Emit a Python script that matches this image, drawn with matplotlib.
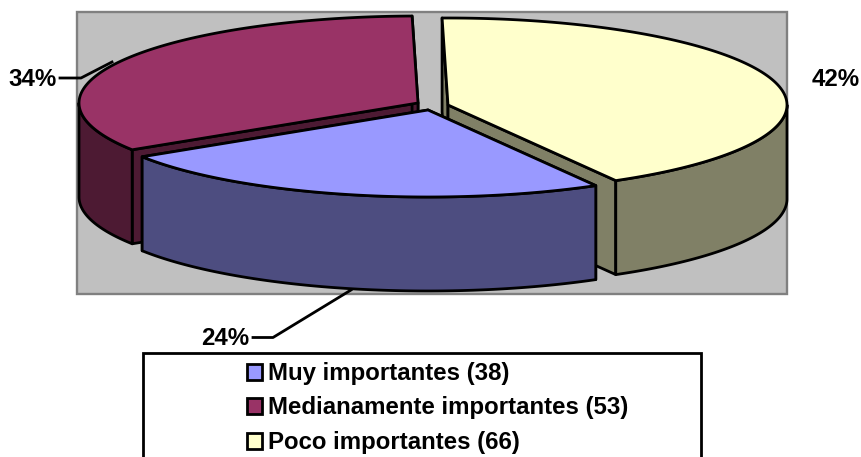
import matplotlib
matplotlib.use("Agg")
import matplotlib.pyplot as plt
import numpy as np
from matplotlib.patches import Polygon, Rectangle

plt.rcParams['font.family'] = ['Liberation Sans', 'DejaVu Sans']

names = ['Muy importantes', 'Medianamente importantes', 'Poco importantes']
values = [38, 53, 66]
top_colors = ['#9999FF', '#993366', '#FFFFCC']
side_colors = ['#4D4D80', '#4D1A33', '#808066']

# exploded apex of each slice, in pixels
apex = [(428, 110), (418, 103), (448, 105)]
rx, ry = 339, 87
depth = 94
start = 91.0
lw = 2.0

fig = plt.figure(figsize=(8.62, 4.57), dpi=100)
ax = fig.add_axes([0, 0, 1, 1])
ax.set_xlim(0, 862)
ax.set_ylim(457, 0)
ax.axis('off')

ax.add_patch(Rectangle((77, 12), 710, 282, fc='#C0C0C0', ec='#808080', lw=1.7, zorder=1))

# angles run clockwise from the start, yellow first
total = sum(values)
spans = [v / total * 360 for v in values]
a_poco = (start, start - spans[2])
a_muy = (a_poco[1], a_poco[1] - spans[0])
a_med = (a_muy[1], a_muy[1] - spans[1])
angles = [a_muy, a_med, a_poco]


def arc(cx, cy, a0, a1, n=120):
    t = np.radians(np.linspace(a0, a1, n))
    return np.column_stack([cx + rx * np.cos(t), cy - ry * np.sin(t)])


def draw_slice(i, z):
    cx, cy = apex[i]
    a0, a1 = angles[i]
    edge = arc(cx, cy, a0, a1)
    down = np.array([0, depth])
    c = np.array([[cx, cy]])

    # radial walls
    for a in (a0, a1):
        p = arc(cx, cy, a, a, 1)
        wall = np.vstack([c, p, p + down, c + down])
        ax.add_patch(Polygon(wall, fc=side_colors[i], ec='black', lw=lw, joinstyle='round', zorder=z))

    # outer wall, front half only
    lo, hi = min(a0, a1), max(a0, a1)
    for k in (-360, 0):
        l2, h2 = max(lo, -180 + k), min(hi, 0 + k)
        if h2 > l2:
            rim = arc(cx, cy, h2, l2)
            ax.add_patch(Polygon(np.vstack([rim, (rim + down)[::-1]]), fc=side_colors[i], ec='black',
                                 lw=lw, joinstyle='round', zorder=z))

    ax.add_patch(Polygon(np.vstack([c, edge]), fc=top_colors[i], ec='black', lw=lw,
                         joinstyle='round', zorder=z + 0.5))


draw_slice(2, 2)
draw_slice(1, 3)
draw_slice(0, 4)

# percent labels
pct = [f'{v / total * 100:.0f}%' for v in values]
font = dict(fontsize=17.3, fontweight='bold', color='black')
ax.text(249, 345, pct[0], ha='right', va='baseline', **font)
ax.text(57, 86, pct[1], ha='right', va='baseline', **font)
ax.text(812, 86, pct[2], ha='left', va='baseline', **font)

ax.plot([253, 273, 351], [337.5, 337.5, 290], color='black', lw=lw, zorder=6)
ax.plot([60, 81, 112], [78, 78, 62], color='black', lw=lw, zorder=6)

# legend, cut by the bottom of the picture
ax.add_patch(Rectangle((143, 353), 558, 130, fc='white', ec='black', lw=lw, zorder=5))
legend_y = [372, 406, 441]
for i, y in enumerate(legend_y):
    ax.add_patch(Rectangle((247, y - 8.5), 15, 16, fc=top_colors[i], ec='black', lw=lw, zorder=6))
    ax.text(268, y + 8, f'{names[i]} ({values[i]})', ha='left', va='baseline', zorder=6, **font)

fig.savefig('out.png', dpi=100)
